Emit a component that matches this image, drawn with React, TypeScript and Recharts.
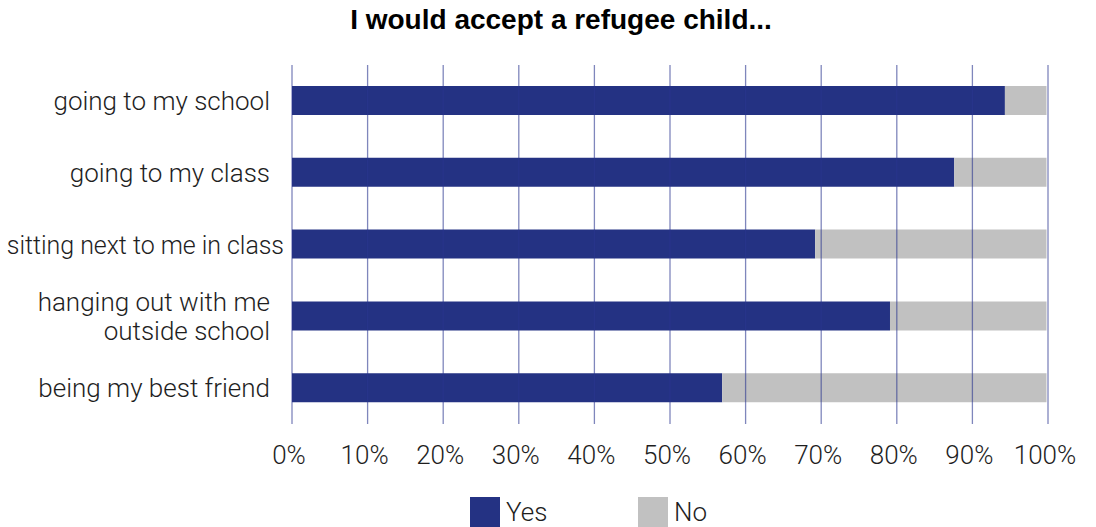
import { BarChart, Bar, XAxis, YAxis, Legend, ReferenceLine } from "recharts";

const categories = [
  "going to my school",
  "going to my class",
  "sitting next to me in class",
  "hanging out with me\noutside school",
  "being my best friend",
];
const yesValues = [94.3, 87.6, 69.2, 79.1, 56.9];
const noValues = [5.5, 12.2, 30.6, 20.7, 42.9];
const xTicks = [0, 10, 20, 30, 40, 50, 60, 70, 80, 90, 100];

const BLUE = "#243283";
const GREY = "#c1c1c1";
const FONT = "Roboto, 'Liberation Sans', sans-serif";

const data = categories.map((name, i) => ({ name, yes: yesValues[i], no: noValues[i] }));

function CategoryTick({ x, y, payload }: any) {
  const lines = String(payload.value).split("\n");
  const lh = 29;
  const start = -((lines.length - 1) * lh) / 2;
  // the longest label runs a bit past the others, as in the original
  const long = lines[0].length > 22;
  const tx = long ? x + 14 : x;
  return (
    <text
      x={tx}
      y={y}
      textAnchor="end"
      fill="#1e1e1e"
      fontSize={long ? 25 : 26}
      letterSpacing={long ? -0.05 : 0}
      fontWeight={300}
      fontFamily={FONT}
    >
      {lines.map((l, i) => (
        <tspan key={i} x={tx} dy={i === 0 ? start + 9 : lh}>
          {l}
        </tspan>
      ))}
    </text>
  );
}

function LegendBox() {
  const items = [
    { label: "Yes", color: BLUE },
    { label: "No", color: GREY },
  ];
  return (
    <div style={{ display: "flex", paddingLeft: 470 }}>
      {items.map((it) => (
        <div key={it.label} style={{ display: "flex", alignItems: "center", width: 168 }}>
          <span style={{ width: 30, height: 30, background: it.color, display: "inline-block" }} />
          <span style={{ marginLeft: 6, fontSize: 26, fontWeight: 300, fontFamily: FONT, color: "#1e1e1e" }}>
            {it.label}
          </span>
        </div>
      ))}
    </div>
  );
}

export default function App() {
  return (
    <div style={{ position: "relative", width: 1096, height: 527, background: "#fff", overflow: "hidden" }}>
      <style>{`body{margin:0}`}</style>
      <div
        style={{
          position: "absolute",
          top: 4,
          left: 0,
          width: 1122,
          textAlign: "center",
          fontFamily: "'Liberation Sans', Arial, sans-serif",
          fontWeight: 700,
          fontSize: 28,
          lineHeight: "32px",
          color: "#000",
        }}
      >
        I would accept a refugee child...
      </div>
      <BarChart
        width={1096}
        height={527}
        data={data}
        layout="vertical"
        margin={{ top: 65, right: 48, left: 0, bottom: 53 }}
        barSize={29}
      >
        <XAxis
          type="number"
          domain={[0, 100]}
          ticks={xTicks}
          tickFormatter={(v) => `${v}%`}
          axisLine={false}
          tickLine={false}
          height={50}
          tick={{ fontSize: 26, fill: "#1e1e1e", fontFamily: FONT, fontWeight: 300, dy: 14, dx: -3 }}
          interval={0}
        />
        <YAxis
          type="category"
          dataKey="name"
          width={292}
          axisLine={false}
          tickLine={false}
          tick={<CategoryTick />}
          tickMargin={16}
          interval={0}
        />
        <Bar dataKey="yes" stackId="a" fill={BLUE} isAnimationActive={false} />
        <Bar dataKey="no" stackId="a" fill={GREY} isAnimationActive={false} />
        {xTicks.map((t) => (
          <ReferenceLine key={t} x={t} stroke="#2a3590" strokeOpacity={0.6} strokeWidth={1.3} />
        ))}
        <Legend
          verticalAlign="middle"
          align="center"
          layout="horizontal"
          content={<LegendBox />}
          wrapperStyle={{ top: 497, left: 0, width: 1096 }}
        />
      </BarChart>
    </div>
  );
}
